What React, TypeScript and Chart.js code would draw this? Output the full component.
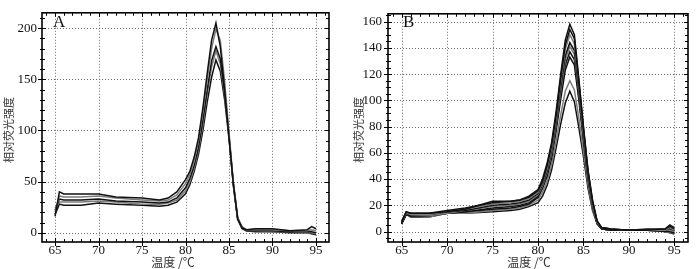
import React, { useEffect, useRef } from 'react';
import { Chart, registerables } from 'chart.js';

Chart.register(...registerables);

// Temperatures (°C) at which each melt curve is sampled
const temps = [65, 65.5, 66, 68, 70, 72, 75, 77, 78, 79, 80, 80.5, 81, 81.5, 82, 82.5, 83, 83.5, 84, 84.5, 85, 85.5, 86, 86.5, 87, 88, 90, 92, 94, 94.5, 95];

// Panel A series
const seriesA1 = [16, 40, 38, 38, 38, 35, 34, 32, 34, 40, 52, 60, 74, 93, 122, 156, 188, 205, 182, 140, 94, 48, 14, 5, 3, 4, 4, 2, 3, 6, 4];
const seriesA2 = [20, 36, 35, 35, 36, 34, 32, 31, 32, 37, 48, 57, 70, 90, 118, 150, 180, 199, 188, 148, 98, 50, 15, 6, 3, 3, 3, 2, 2, 3, 2];
const seriesA3 = [22, 33, 32, 32, 33, 31, 30, 29, 30, 34, 44, 53, 66, 84, 110, 140, 168, 182, 170, 138, 95, 48, 14, 5, 2, 2, 2, 1, 1, 1, 0];
const seriesA4 = [24, 30, 30, 30, 31, 30, 28, 28, 29, 32, 41, 50, 63, 81, 106, 136, 162, 178, 165, 135, 94, 47, 13, 5, 2, 2, 1, 1, 0, 0, -1];
const seriesA5 = [18, 28, 27, 27, 29, 28, 27, 26, 27, 30, 38, 47, 60, 77, 100, 128, 152, 169, 158, 130, 92, 46, 13, 4, 2, 1, 1, 0, 0, -1, -2];

// Panel B series
const seriesB1 = [7, 15, 14, 14, 16, 18, 22, 23, 24, 27, 32, 40, 52, 68, 92, 120, 146, 158, 150, 116, 80, 47, 24, 8, 3, 2, 1, 2, 2, 5, 3];
const seriesB2 = [8, 15, 14, 14, 15, 17, 23, 23, 24, 26, 31, 38, 50, 66, 89, 117, 142, 154, 147, 114, 79, 46, 23, 8, 3, 2, 1, 1, 2, 4, 2];
const seriesB3 = [7, 14, 13, 13, 15, 17, 21, 22, 23, 25, 30, 37, 48, 64, 87, 114, 139, 150, 143, 112, 77, 45, 22, 7, 3, 2, 1, 1, 1, 3, 1];
const seriesB4 = [6, 14, 13, 13, 15, 16, 20, 21, 22, 24, 29, 36, 46, 62, 84, 110, 134, 144, 138, 108, 74, 43, 21, 7, 2, 1, 1, 1, 1, 2, 1];
const seriesB5 = [7, 14, 13, 12, 14, 16, 19, 20, 21, 23, 28, 35, 45, 60, 82, 107, 131, 141, 135, 106, 73, 42, 20, 7, 2, 1, 1, 1, 1, 1, 0];
const seriesB6 = [6, 13, 12, 12, 14, 15, 18, 19, 20, 22, 27, 34, 44, 58, 80, 104, 127, 137, 131, 103, 71, 41, 20, 6, 2, 1, 1, 1, 1, 0, 0];
const seriesB7 = [6, 13, 12, 12, 14, 15, 17, 18, 19, 21, 26, 33, 42, 56, 77, 101, 123, 133, 127, 100, 69, 40, 19, 6, 2, 1, 1, 1, 0, 0, -1];
const seriesB8 = [6, 13, 12, 11, 14, 14, 16, 17, 18, 20, 24, 30, 38, 51, 69, 89, 107, 115, 108, 86, 61, 36, 17, 6, 2, 1, 1, 1, 0, -1, -1];
const seriesB9 = [6, 13, 11, 11, 14, 14, 15, 16, 17, 19, 22, 27, 35, 47, 64, 82, 98, 107, 99, 79, 57, 33, 16, 6, 2, 1, 1, 1, 0, -1, -2];

// Tick labels
const xTicks = [65, 70, 75, 80, 85, 90, 95];
const yTicksA = [0, 50, 100, 150, 200];
const yTicksB = [0, 20, 40, 60, 80, 100, 120, 140, 160];

const yTitle = '相对荧光强度';
const xTitle = '温度 /℃';

const BLACK = '#111';
const GRAY = '#7c7c7c';

const serif = '"Liberation Serif", "Times New Roman", serif';
const cjk = '"Noto Sans CJK SC", sans-serif';

const frameTicks = {
  id: 'frameTicks',
  beforeDatasetsDraw(chart: any) {
    // dotted grid lines at the major ticks (positions from the scales)
    const o = chart.options.plugins.frameTicks;
    const { ctx, chartArea: ca } = chart;
    const xs = chart.scales.x;
    const ys = chart.scales.y;
    ctx.save();
    ctx.strokeStyle = '#6a6a6a';
    ctx.lineWidth = 1;
    ctx.setLineDash([1, 2]);
    ctx.beginPath();
    for (const v of xTicks) {
      const p = Math.round(xs.getPixelForValue(v)) + 0.5;
      ctx.moveTo(p, ca.top);
      ctx.lineTo(p, ca.bottom);
    }
    for (const v of o.yMajor) {
      const p = Math.round(ys.getPixelForValue(v)) + 0.5;
      ctx.moveTo(ca.left, p);
      ctx.lineTo(ca.right, p);
    }
    ctx.stroke();
    ctx.restore();
  },
  afterDraw(chart: any) {
    const o = chart.options.plugins.frameTicks;
    const { ctx, chartArea: ca } = chart;
    const xs = chart.scales.x;
    const ys = chart.scales.y;
    ctx.save();
    ctx.strokeStyle = '#000';
    ctx.lineWidth = 1;
    ctx.beginPath();
    const seg = (x1: number, y1: number, x2: number, y2: number) => {
      ctx.moveTo(x1, y1);
      ctx.lineTo(x2, y2);
    };
    for (let v = Math.ceil(xs.min); v <= xs.max; v += 1) {
      const p = Math.round(xs.getPixelForValue(v)) + 0.5;
      const major = xTicks.includes(v);
      seg(p, ca.bottom + (major ? 4 : 0), p, ca.bottom - (major ? 4 : 3));
      seg(p, ca.top, p, ca.top + (major ? 4 : 3));
    }
    const step = o.yMinor;
    for (let v = Math.ceil(ys.min / step) * step; v <= ys.max; v += step) {
      const p = Math.round(ys.getPixelForValue(v)) + 0.5;
      const major = o.yMajor.includes(v);
      seg(ca.left - (major ? 4 : 2), p, ca.left + (major ? 4 : 3), p);
      seg(ca.right, p, ca.right - (major ? 4 : 3), p);
    }
    ctx.stroke();
    ctx.lineWidth = 1.6;
    ctx.strokeRect(ca.left, ca.top, ca.right - ca.left, ca.bottom - ca.top);

    ctx.fillStyle = '#111';
    ctx.font = `17px ${serif}`;
    ctx.textAlign = 'left';
    ctx.textBaseline = 'alphabetic';
    ctx.fillText(o.letter, o.letterX, o.letterY);

    ctx.fillStyle = '#333';
    ctx.font = `12px ${cjk}`;
    ctx.textAlign = 'center';
    ctx.textBaseline = 'middle';
    ctx.fillText(xTitle, o.xTitleX, o.xTitleY);

    ctx.translate(o.yTitleX, o.yTitleY);
    ctx.rotate(-Math.PI / 2);
    ctx.font = `11px ${cjk}`;
    ctx.fillText(yTitle, 0, 0);
    ctx.restore();
  },
};

type PanelProps = {
  left: number;
  width: number;
  yAxisWidth: number;
  padRight: number;
  padTop: number;
  yMin: number;
  yMax: number;
  yMajor: number[];
  yMinor: number;
  yLabelPad: number;
  series: number[][];
  colors: string[];
  letter: string;
  letterX: number;
  xTitleX: number;
  yTitleX: number;
};

function Panel(p: PanelProps) {
  const ref = useRef<HTMLCanvasElement>(null);
  useEffect(() => {
    if (!ref.current) return;
    const chart = new Chart(ref.current, {
      type: 'line',
      data: {
        datasets: p.series.map((s, i) => ({
          data: s.map((y, j) => ({ x: temps[j], y })),
          borderColor: p.colors[i],
          borderWidth: 1.5,
          pointRadius: 0,
          tension: 0,
          fill: false,
        })),
      },
      plugins: [frameTicks],
      options: {
        animation: false,
        responsive: false,
        devicePixelRatio: 1,
        layout: { padding: { left: 0, right: p.padRight, top: p.padTop, bottom: 0 } },
        plugins: {
          legend: { display: false },
          tooltip: { enabled: false },
          frameTicks: {
            yMajor: p.yMajor,
            yMinor: p.yMinor,
            letter: p.letter,
            letterX: p.letterX,
            letterY: 27,
            xTitleX: p.xTitleX,
            xTitleY: 262,
            yTitleX: p.yTitleX,
            yTitleY: 130,
          },
        } as any,
        scales: {
          x: {
            type: 'linear',
            min: 63.5,
            max: 96.5,
            afterBuildTicks: (s: any) => {
              s.ticks = xTicks.map((v) => ({ value: v }));
            },
            afterFit: (s: any) => {
              s.height = 27;
            },
            grid: { display: false, drawTicks: false },
            border: { display: false },
            ticks: {
              padding: 1,
              color: '#111',
              font: { family: serif, size: 13 },
              maxRotation: 0,
              autoSkip: false,
            },
          },
          y: {
            type: 'linear',
            min: p.yMin,
            max: p.yMax,
            afterBuildTicks: (s: any) => {
              s.ticks = p.yMajor.map((v) => ({ value: v }));
            },
            afterFit: (s: any) => {
              s.width = p.yAxisWidth;
            },
            grid: { display: false, drawTicks: false },
            border: { display: false },
            ticks: {
              padding: p.yLabelPad,
              color: '#111',
              font: { family: serif, size: 13 },
              autoSkip: false,
            },
          },
        },
      } as any,
    });
    return () => chart.destroy();
  }, []);
  return (
    <canvas
      ref={ref}
      width={p.width}
      height={269}
      style={{ position: 'absolute', left: p.left, top: 0, width: p.width, height: 269, display: 'block' }}
    />
  );
}

export default function App() {
  return (
    <div style={{ position: 'absolute', left: 0, top: 0, width: 700, height: 269, background: '#fff' }}>
      <Panel
        left={0}
        width={345}
        yAxisWidth={42}
        padRight={16}
        padTop={5}
        yMin={-9}
        yMax={215}
        yMajor={yTicksA}
        yMinor={10}
        yLabelPad={5}
        series={[seriesA1, seriesA2, seriesA3, seriesA4, seriesA5]}
        colors={[BLACK, GRAY, BLACK, GRAY, BLACK]}
        letter="A"
        letterX={53}
        xTitleX={173}
        yTitleX={9}
      />
      <Panel
        left={350}
        width={350}
        yAxisWidth={38}
        padRight={12}
        padTop={4}
        yMin={-8}
        yMax={166}
        yMajor={yTicksB}
        yMinor={5}
        yLabelPad={6}
        series={[seriesB1, seriesB2, seriesB3, seriesB4, seriesB5, seriesB6, seriesB7, seriesB8, seriesB9]}
        colors={[BLACK, BLACK, GRAY, BLACK, GRAY, BLACK, BLACK, GRAY, BLACK]}
        letter="B"
        letterX={53}
        xTitleX={179}
        yTitleX={9}
      />
    </div>
  );
}
